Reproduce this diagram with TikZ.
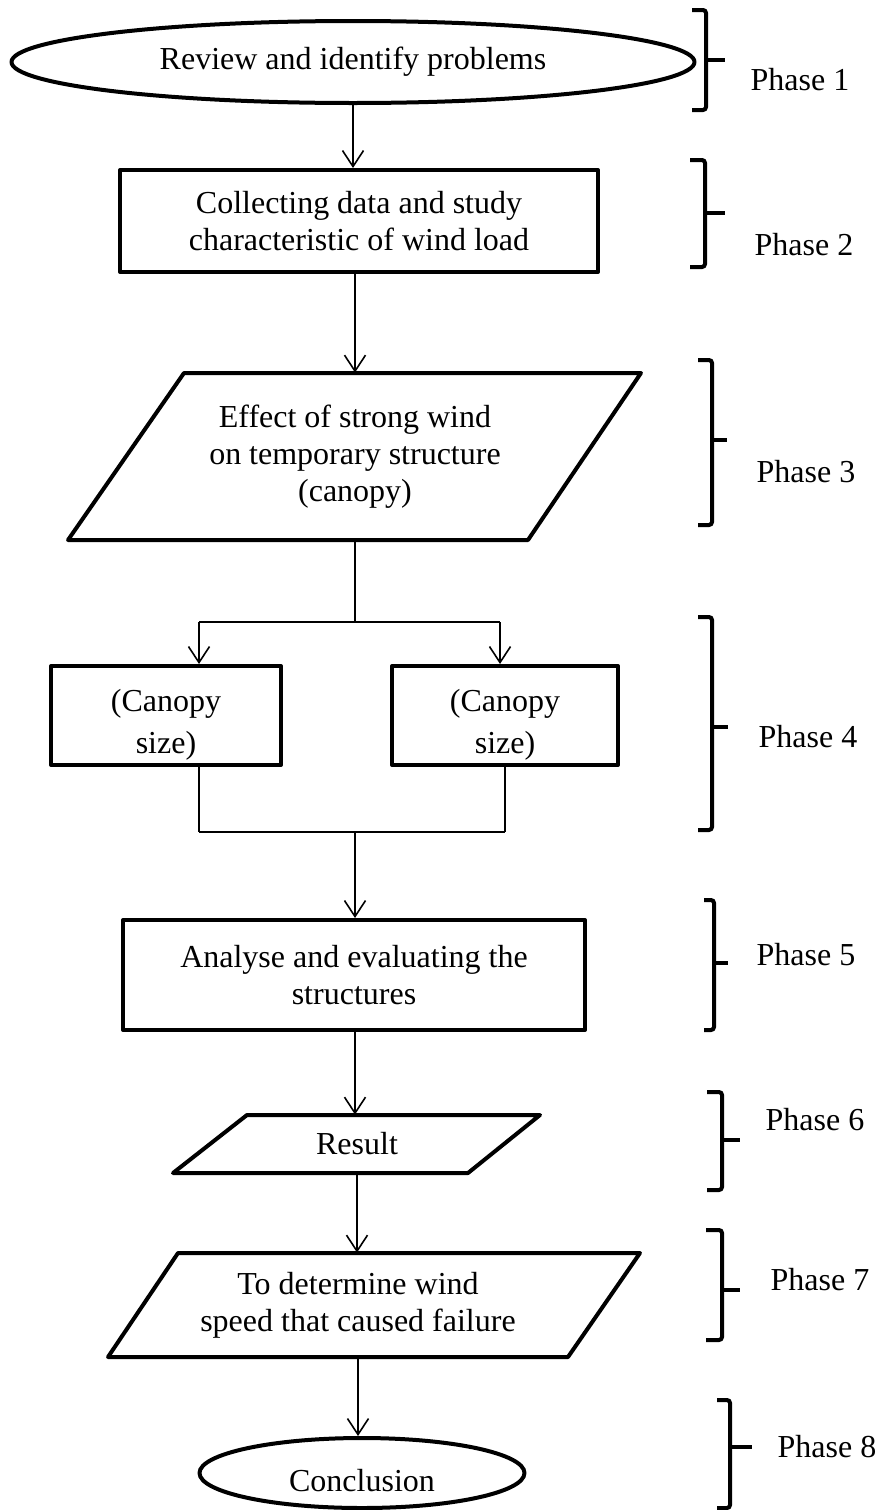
\documentclass[tikz,border=0pt]{standalone}
\usepackage{fontspec}
\setmainfont{Liberation Serif}
\usetikzlibrary{arrows.meta,calc,shapes.geometric}
\begin{document}
\begin{tikzpicture}[x=0.5pt,y=-0.5pt,
  shapeline/.style={line width=2pt, line join=round},
  conn/.style={line width=0.8pt},
  arr/.style={conn,-{Straight Barb[length=8pt,width=10.5pt,line width=0.8pt]}},
  txt/.style={font=\fontsize{16}{18.5}\selectfont, align=center, inner sep=0pt},
  boxnode/.style={txt, draw, shapeline, rectangle},
  ovalnode/.style={txt, draw, shapeline, ellipse},
  bracket/.style={line width=2pt, rounded corners=1.5pt},
  phase/.style={font=\fontsize{16}{18.5}\selectfont, inner sep=0pt}]
\useasboundingbox (0,0) rectangle (886,1510);

% nodes
\node[ovalnode, minimum width=341.5pt, minimum height=41pt] (e1) at (353,62) {Review and identify problems};
\node[boxnode, minimum width=239pt, minimum height=51pt] (b2) at (359,221) {Collecting data and study\\characteristic of wind load};
\node[txt, minimum height=83.5pt] (p3) at (355,456.5) {Effect of strong wind\\on temporary structure\\(canopy)};
\draw[shapeline] (184,373) -- (641,373) -- (528,540) -- (68,540) -- cycle;
\coordinate (split) at (355,622);
\coordinate (sl) at (199,622);
\coordinate (sr) at (500,622);
\node[boxnode, font=\fontsize{16}{21}\selectfont, minimum width=115pt, minimum height=49.5pt] (b4a) at (166,715.5) {\rule{0pt}{20pt}(Canopy\\size)};
\node[boxnode, font=\fontsize{16}{21}\selectfont, minimum width=113pt, minimum height=49.5pt] (b4b) at (505,715.5) {\rule{0pt}{20pt}(Canopy\\size)};
\coordinate (jl) at (199,832);
\coordinate (jr) at (505,832);
\coordinate (join) at (355,832);
\node[boxnode, minimum width=231pt, minimum height=55pt] (b5) at (354,975) {Analyse and evaluating the\\structures};
\node[txt, minimum height=29pt] (p6) at (357,1144) {Result};
\draw[shapeline] (247,1115) -- (540,1115) -- (468,1173) -- (173,1173) -- cycle;
\node[txt, minimum height=52pt] (p7) at (358,1305) {To determine wind\\speed that caused failure};
\draw[shapeline] (178,1253) -- (640,1253) -- (568,1357) -- (108,1357) -- cycle;
\node[ovalnode, minimum width=162.5pt, minimum height=35pt] (e8) at (362,1473) {\rule{0pt}{19pt}Conclusion};

% connectors
\draw[arr] (e1.south) -- (e1.south |- b2.north);
\draw[arr] (p3.north |- b2.south) -- (p3.north);
\draw[conn] (p3.south) -- (split);
\draw[conn] (sl) -- (sr);
\draw[arr] (sl) -- (sl |- b4a.north);
\draw[arr] (sr) -- (sr |- b4b.north);
\draw[conn] (sl |- b4a.south) -- (jl);
\draw[conn] (jr |- b4b.south) -- (jr);
\draw[conn] (jl) -- (jr);
\draw[arr] (join) -- (join |- b5.north);
\draw[arr] (b5.south -| join) -- (p6.north -| join);
\draw[arr] (p6.south) -- (p7.north -| p6.south);
\draw[arr] (p7.south) -- (e8.north -| p7.south);

% phase brackets
\draw[bracket] (692,10) -- (706,10) -- (706,110) -- (692,110);
\draw[bracket] (706,60) -- (725,60);
\node[phase] (ph1) at (800,80) {Phase 1};
\draw[bracket] (690,160) -- (705,160) -- (705,267) -- (690,267);
\draw[bracket] (705,213) -- (725,213);
\node[phase] (ph2) at (804,245) {Phase 2};
\draw[bracket] (698,360) -- (712,360) -- (712,525) -- (698,525);
\draw[bracket] (712,440) -- (727,440);
\node[phase] (ph3) at (806,472) {Phase 3};
\draw[bracket] (698,617) -- (712,617) -- (712,830) -- (698,830);
\draw[bracket] (712,727) -- (728,727);
\node[phase] (ph4) at (808,737) {Phase 4};
\draw[bracket] (704,900) -- (714,900) -- (714,1030) -- (704,1030);
\draw[bracket] (714,963) -- (728,963);
\node[phase] (ph5) at (806,955) {Phase 5};
\draw[bracket] (707,1092) -- (722,1092) -- (722,1190) -- (707,1190);
\draw[bracket] (722,1140) -- (740,1140);
\node[phase] (ph6) at (815,1120) {Phase 6};
\draw[bracket] (706,1230) -- (722,1230) -- (722,1340) -- (706,1340);
\draw[bracket] (722,1290) -- (740,1290);
\node[phase] (ph7) at (820,1280) {Phase 7};
\draw[bracket] (717,1400) -- (730,1400) -- (730,1508) -- (717,1508);
\draw[bracket] (730,1447) -- (752,1447);
\node[phase] (ph8) at (827,1447) {Phase 8};
\end{tikzpicture}
\end{document}
